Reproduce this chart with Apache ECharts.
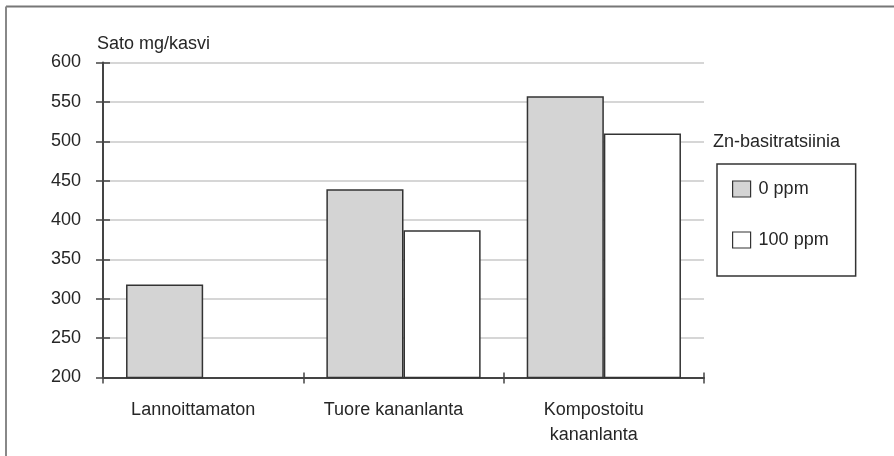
<!DOCTYPE html>
<html>
<head>
<meta charset="UTF-8">
<title>chart</title>
<script src="https://cdn.jsdelivr.net/npm/echarts@6/dist/echarts.min.js"></script>
<style>
  html, body { margin: 0; padding: 0; background: #fff; }
  #container { width: 894px; height: 456px; }
</style>
</head>
<body>
<div id="container"></div>
<script>
// data
const categories = ['Lannoittamaton', 'Tuore kananlanta', 'Kompostoitu\nkananlanta']
const seriesNames = ['0 ppm', '100 ppm']
const values0ppm = [318, 439, 557]
const values100ppm = [null, 387, 510]
const yTicks = { min: 200, max: 600, interval: 50 }

const font = 'Liberation Sans, Arial, Helvetica, sans-serif'
const textColor = '#262626'
const axisColor = '#444'

const chart = echarts.init(document.getElementById('container'), null, { renderer: 'canvas' })

const barStyle = fill => ({
  color: fill,
  borderColor: '#333',
  borderWidth: 1.5
})

chart.setOption({
  animation: false,
  backgroundColor: '#fff',
  textStyle: { fontFamily: font, color: textColor },
  grid: { left: 103, right: 190, top: 62.5, bottom: 78.5 },
  graphic: [
    // frame: only top and left lines
    { type: 'line', shape: { x1: 6, y1: 6.5, x2: 894, y2: 6.5 }, style: { stroke: '#777', lineWidth: 2 } },
    { type: 'line', shape: { x1: 6, y1: 6.5, x2: 6, y2: 456 }, style: { stroke: '#888', lineWidth: 2 } },
    { type: 'text', left: 97, top: 35, style: { text: 'Sato mg/kasvi', font: '18px ' + font, fill: textColor } },
    { type: 'text', left: 713, top: 133, style: { text: 'Zn-basitratsiinia', font: '18px ' + font, fill: textColor } }
  ],
  legend: {
    orient: 'vertical',
    left: 717,
    top: 164,
    data: seriesNames,
    itemWidth: 18,
    itemHeight: 16,
    itemGap: 33,
    padding: [16, 27, 27, 15],
    borderColor: '#333',
    borderWidth: 1.5,
    icon: 'rect',
    itemStyle: { borderColor: '#333', borderWidth: 1.2 },
    textStyle: { fontSize: 18, color: textColor, fontFamily: font, padding: [0, 0, 0, 3] }
  },
  xAxis: [
    {
      type: 'category',
      data: categories,
      axisLine: { lineStyle: { color: axisColor, width: 2 } },
      axisTick: { show: true, length: 6, lineStyle: { color: axisColor, width: 1.5 } },
      axisLabel: { fontSize: 18, color: textColor, margin: 20, lineHeight: 25, padding: [0, 20, 0, 0] },
      splitLine: { show: false }
    },
    {
      type: 'category',
      data: categories,
      position: 'bottom',
      axisLine: { show: false },
      axisTick: { show: true, inside: true, length: 5, lineStyle: { color: axisColor, width: 1.5 } },
      axisLabel: { show: false }
    }
  ],
  yAxis: [
    {
      type: 'value',
      min: yTicks.min,
      max: yTicks.max,
      interval: yTicks.interval,
      axisLine: { show: true, lineStyle: { color: axisColor, width: 2 } },
      axisTick: { show: true, length: 7, lineStyle: { color: axisColor, width: 1.5 } },
      axisLabel: { fontSize: 18, color: textColor, margin: 22 },
      splitLine: { show: true, lineStyle: { color: '#c8c8c8', width: 1.5 } }
    },
    {
      type: 'value',
      min: yTicks.min,
      max: yTicks.max,
      interval: yTicks.interval,
      position: 'left',
      axisLine: { show: false },
      axisTick: { show: true, inside: true, length: 7, lineStyle: { color: axisColor, width: 1.5 } },
      axisLabel: { show: false },
      splitLine: { show: false }
    }
  ],
  series: [
    {
      name: seriesNames[0],
      type: 'bar',
      data: values0ppm,
      barGap: '0%',
      barCategoryGap: '23%',
      itemStyle: barStyle('#d4d4d4')
    },
    {
      name: seriesNames[1],
      type: 'bar',
      data: values100ppm,
      itemStyle: barStyle('#ffffff')
    }
  ]
})
</script>
</body>
</html>
